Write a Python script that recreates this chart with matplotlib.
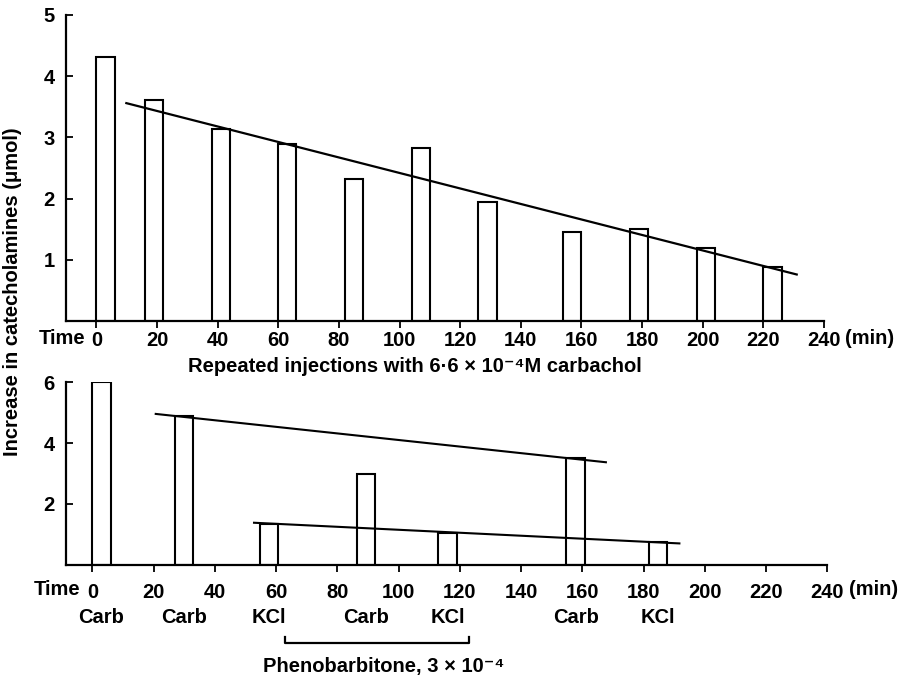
import numpy as np
import matplotlib
matplotlib.use("Agg")
import matplotlib.pyplot as plt
from matplotlib.transforms import blended_transform_factory

plt.rcParams['font.family'] = ['Liberation Sans', 'DejaVu Sans']
plt.rcParams['font.weight'] = 'bold'
plt.rcParams['font.size'] = 14.5

# top panel: repeated carbachol injections
top_start = [0, 16, 38, 60, 82, 104, 126, 154, 176, 198, 220]
top_height = [4.31, 3.61, 3.13, 2.90, 2.32, 2.83, 1.94, 1.45, 1.51, 1.19, 0.89]
top_fit_x = [9.9, 231]
top_fit_y = [3.56, 0.76]

# bottom panel: carbachol / KCl with phenobarbitone
bot_start = [0, 27, 54.6, 86.4, 113, 154.8, 181.7]
bot_height = [6.0, 4.89, 1.33, 2.98, 1.05, 3.52, 0.75]
bot_labels = ["Carb", "Carb", "KCl", "Carb", "KCl", "Carb", "KCl"]
bot_fit1_x = [20.7, 167.7]
bot_fit1_y = [4.96, 3.37]
bot_fit2_x = [52.8, 191.7]
bot_fit2_y = [1.38, 0.70]
pheno_x = [63, 123]

bar_w = 6
xticks = list(range(0, 241, 20))

fig = plt.figure(figsize=(9.12, 6.8), dpi=100)
ax1 = fig.add_axes([66/912, 1-321/680, (824-66)/912, 306/680])
ax2 = fig.add_axes([66/912, 1-564.7/680, (827.3-66)/912, 182.4/680])


def style(ax, xmin, ymax, yticks, pad):
    for s in ['top', 'right']:
        ax.spines[s].set_visible(False)
    for s in ['left', 'bottom']:
        ax.spines[s].set_linewidth(1.6)
    ax.set_xlim(xmin, 240)
    ax.set_ylim(0, ymax)
    ax.set_xticks(xticks)
    ax.set_xticklabels([str(t) for t in xticks], fontweight='bold')
    ax.set_yticks(yticks)
    ax.set_yticklabels([str(t) for t in yticks], fontweight='bold')
    ax.tick_params(axis='x', direction='out', length=5, width=1.3, pad=pad)
    ax.tick_params(axis='y', direction='in', length=5, width=1.3, pad=8)
    tr = blended_transform_factory(ax.transData, ax.transAxes)
    return tr


tr1 = style(ax1, -10, 5, [1, 2, 3, 4, 5], 2.5)
ax1.bar(top_start, top_height, width=bar_w, align='edge', facecolor='white',
        edgecolor='black', linewidth=1.5)
ax1.plot(top_fit_x, top_fit_y, color='black', lw=1.6)
ax1.text(-3.5, -0.058, "Time", transform=tr1, ha='right', va='center',
         fontweight='bold')
ax1.text(247, -0.058, "(min)", transform=tr1, ha='left', va='center',
         fontweight='bold')
ax1.text(105, -0.15, "Repeated injections with 6·6 × 10⁻⁴M carbachol",
         transform=tr1, ha='center', va='center', fontweight='bold')

tr2 = style(ax2, -8.6, 6, [2, 4, 6], 8.5)
ax2.bar(bot_start, bot_height, width=bar_w, align='edge', facecolor='white',
        edgecolor='black', linewidth=1.5)
ax2.plot(bot_fit1_x, bot_fit1_y, color='black', lw=1.5)
ax2.plot(bot_fit2_x, bot_fit2_y, color='black', lw=1.5)
ax2.text(-4, -0.135, "Time", transform=tr2, ha='right', va='center',
         fontweight='bold')
ax2.text(247, -0.135, "(min)", transform=tr2, ha='left', va='center',
         fontweight='bold')
for s, lab in zip(bot_start, bot_labels):
    ax2.text(s + bar_w/2, -0.287, lab, transform=tr2, ha='center',
             va='center', fontweight='bold')
ax2.plot([pheno_x[0], pheno_x[0], pheno_x[1], pheno_x[1]],
         [-0.395, -0.43, -0.43, -0.395], color='black', lw=1.6,
         transform=tr2, clip_on=False)
ax2.text(95, -0.56, "Phenobarbitone, 3 × 10⁻⁴", transform=tr2,
         ha='center', va='center', fontweight='bold')

fig.text(13/912, 1-292/680, "Increase in catecholamines (μmol)", rotation=90,
         ha='center', va='center', fontweight='bold')

fig.savefig("out.png", dpi=100, facecolor='white')
